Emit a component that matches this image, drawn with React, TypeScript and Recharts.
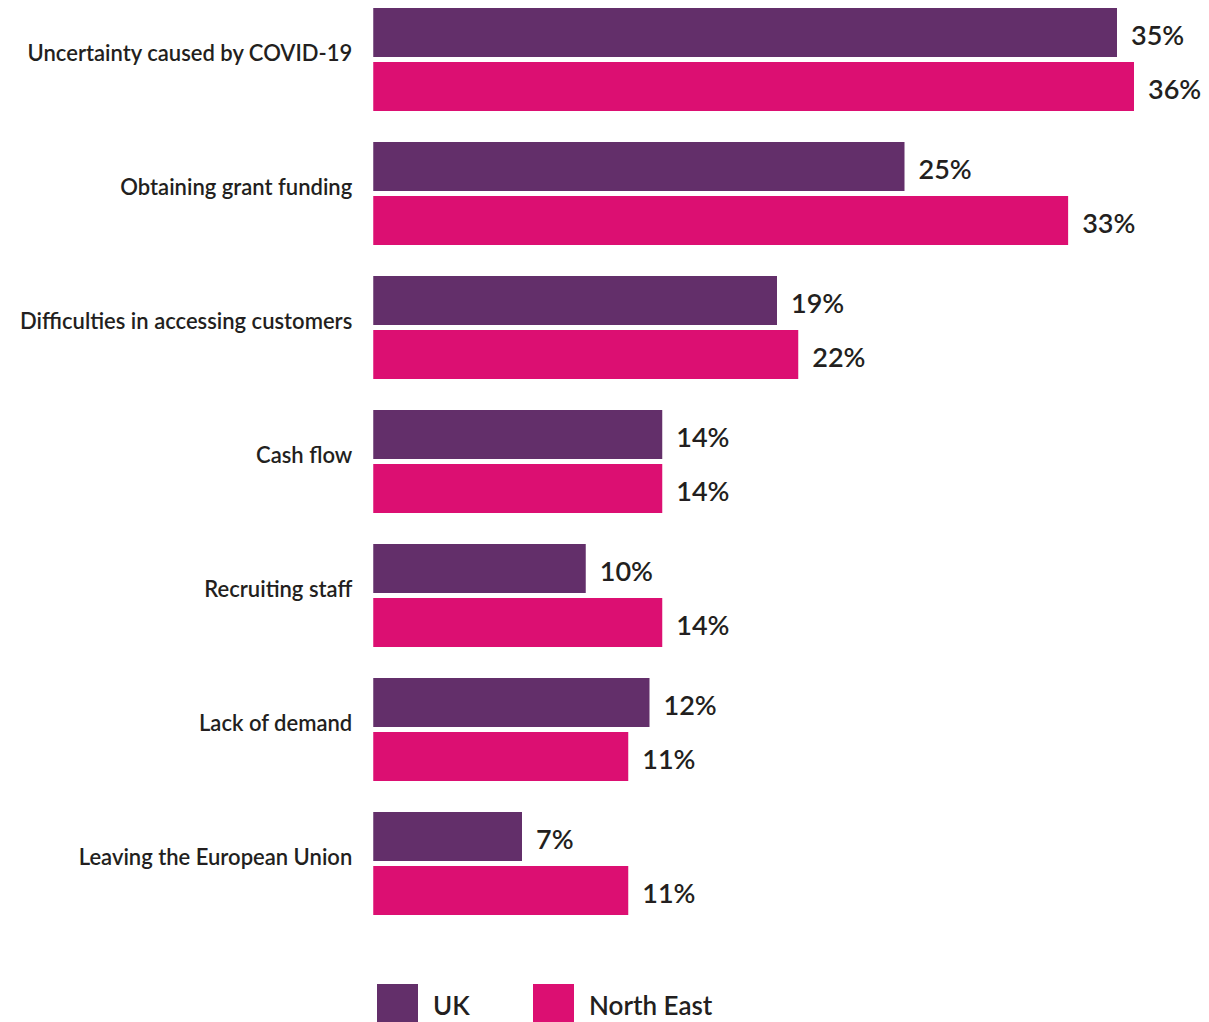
import { BarChart, Bar, XAxis, YAxis, Legend, LabelList } from "recharts";

const categories = [
  "Uncertainty caused by COVID-19",
  "Obtaining grant funding",
  "Difficulties in accessing customers",
  "Cash flow",
  "Recruiting staff",
  "Lack of demand",
  "Leaving the European Union",
];

// bar lengths as drawn in the source (the printed labels don't always match them)
const ukValues = [35, 25, 19, 13.6, 10, 13, 7];
const northEastValues = [35.8, 32.7, 20, 13.6, 13.6, 12, 12];

const ukLabels = ["35%", "25%", "19%", "14%", "10%", "12%", "7%"];
const northEastLabels = ["36%", "33%", "22%", "14%", "14%", "11%", "11%"];

const data = categories.map((name, i) => ({
  name,
  uk: ukValues[i],
  northEast: northEastValues[i],
}));

const UK_COLOR = "#632f6a";
const NE_COLOR = "#dc0f72";
const TEXT = "#231f20";
const FONT = "Lato, 'Noto Sans', sans-serif";

const CategoryTick = (props: any) => {
  const { x, y, payload } = props;
  return (
    <text
      x={x}
      y={y - 6}
      dy="0.36em"
      textAnchor="end"
      fill={TEXT}
      fontSize={22}
      fontWeight={600}
      fontFamily={FONT}
    >
      {payload.value}
    </text>
  );
};

const valueLabel = (labels: string[]) => (props: any) => {
  const { x, y, width, height, index } = props;
  return (
    <text
      x={x + width + 14}
      y={y + height / 2 + 3}
      dy="0.36em"
      fill={TEXT}
      fontSize={27}
      fontWeight={600}
      fontFamily={FONT}
    >
      {labels[index]}
    </text>
  );
};

const LegendContent = () => {
  const items = [
    { label: "UK", color: UK_COLOR, width: 156 },
    { label: "North East", color: NE_COLOR, width: 200 },
  ];
  return (
    <div style={{ display: "flex", alignItems: "center", fontFamily: FONT }}>
      {items.map((it) => (
        <div key={it.label} style={{ display: "flex", alignItems: "center", width: it.width }}>
          <div style={{ width: 41, height: 41, background: it.color, marginRight: 15 }} />
          <span style={{ fontSize: 26, fontWeight: 600, color: TEXT }}>{it.label}</span>
        </div>
      ))}
    </div>
  );
};

export default function App() {
  return (
    <div style={{ position: "absolute", left: 0, top: -8, background: "#fff" }}>
      <BarChart
        width={1209}
        height={1030}
        data={data}
        layout="vertical"
        margin={{ top: 0.5, right: 28.25, bottom: 91.5, left: 0.25 }}
        barCategoryGap={15.5}
        barGap={5}
      >
        <XAxis type="number" domain={[0, 38]} hide />
        <YAxis
          type="category"
          dataKey="name"
          width={373}
          tickSize={0}
          tickMargin={21}
          axisLine={false}
          tickLine={false}
          tick={<CategoryTick />}
          interval={0}
        />
        <Legend
          layout="horizontal"
          verticalAlign="middle"
          align="center"
          wrapperStyle={{ top: 992, left: 377, width: 400, height: 41 }}
          content={<LegendContent />}
        />
        <Bar dataKey="uk" name="UK" fill={UK_COLOR} isAnimationActive={false}>
          <LabelList dataKey="uk" content={valueLabel(ukLabels)} />
        </Bar>
        <Bar dataKey="northEast" name="North East" fill={NE_COLOR} isAnimationActive={false}>
          <LabelList dataKey="northEast" content={valueLabel(northEastLabels)} />
        </Bar>
      </BarChart>
    </div>
  );
}
